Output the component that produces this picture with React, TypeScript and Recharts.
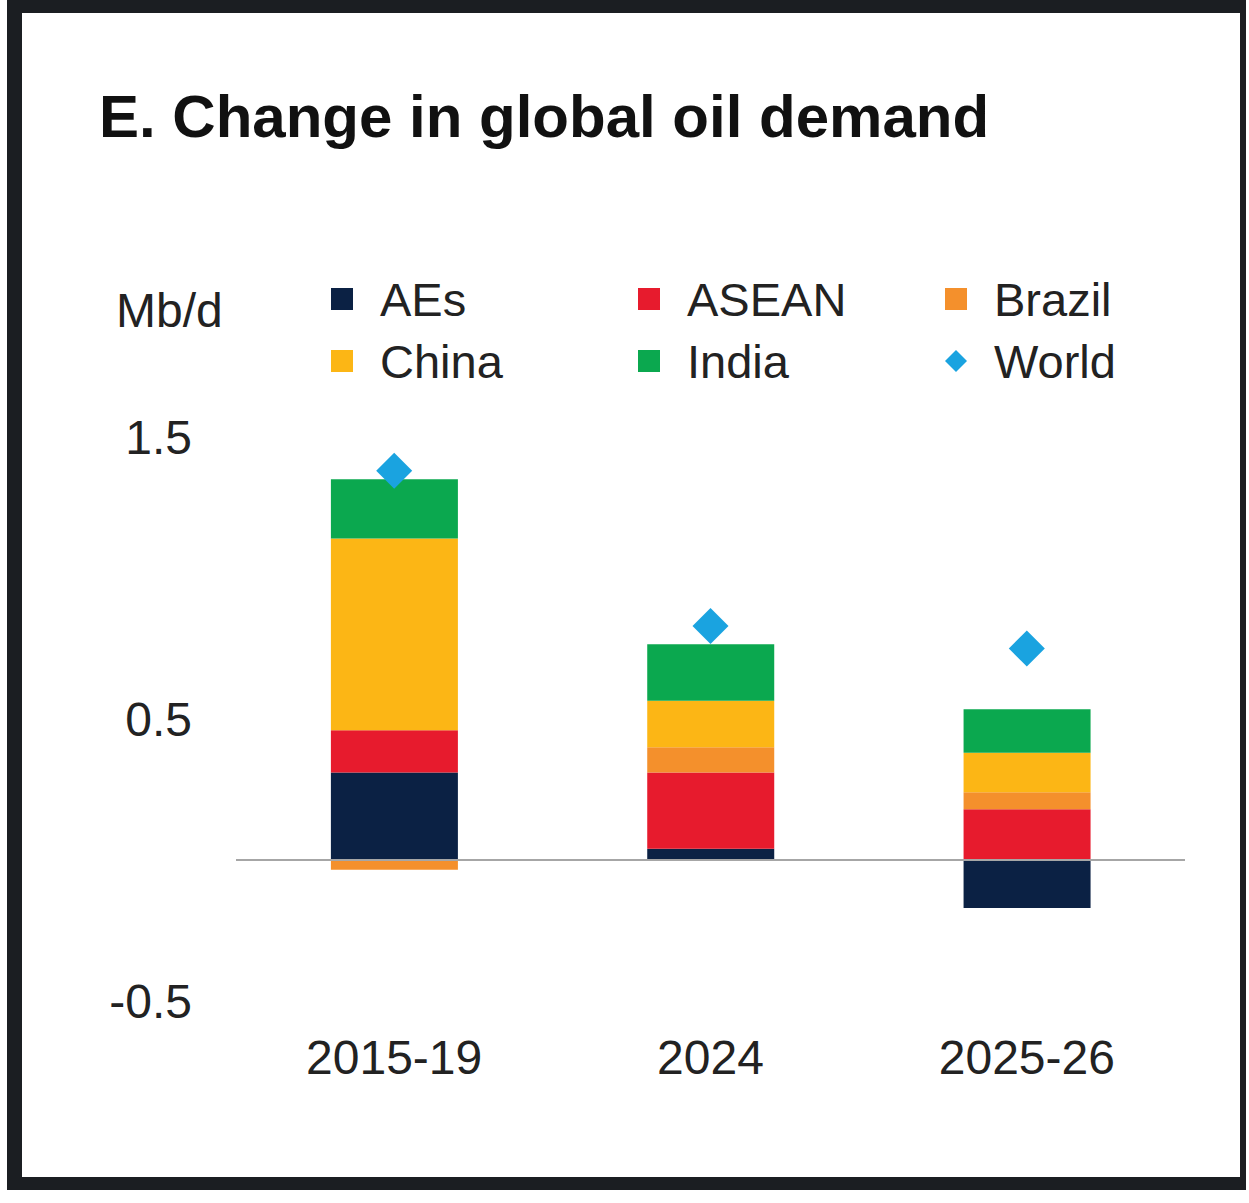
import React from "react";
import { ComposedChart, Bar, Line, XAxis, YAxis, ReferenceLine, Legend } from "recharts";

const categories = ["2015-19", "2024", "2025-26"];
const aes = [0.31, 0.04, -0.17];
const asean = [0.15, 0.27, 0.18];
const brazil = [-0.035, 0.09, 0.06];
const china = [0.68, 0.165, 0.14];
const india = [0.21, 0.2, 0.155];
const world = [1.38, 0.83, 0.75];
const yTicks = [-0.5, 0.5, 1.5];

const FONT = '"Liberation Sans", Arial, Helvetica, sans-serif';

const series = [
  { key: "AEs", values: aes, color: "#0b2144" },
  { key: "ASEAN", values: asean, color: "#e71b2d" },
  { key: "Brazil", values: brazil, color: "#f4902c" },
  { key: "China", values: china, color: "#fcb615" },
  { key: "India", values: india, color: "#0ba84f" },
];
const worldColor = "#1aa3e0";

const data = categories.map((c, i) => {
  const row: Record<string, string | number> = { name: c, World: world[i] };
  series.forEach((s) => (row[s.key] = s.values[i]));
  return row;
});

// legend order as in the original, 3 columns x 2 rows
const legendItems = [
  ...series.map((s) => ({ name: s.key, color: s.color, diamond: false })),
  { name: "World", color: worldColor, diamond: true },
];

function Diamond(props: any) {
  const { cx, cy } = props;
  if (cx == null || cy == null) return null;
  const r = 18;
  return (
    <path
      d={`M${cx},${cy - r}L${cx + r},${cy}L${cx},${cy + r}L${cx - r},${cy}Z`}
      fill={worldColor}
    />
  );
}

function LegendBox() {
  return (
    <div style={{ display: "grid", gridTemplateColumns: "307px 307px 307px", rowGap: 0, fontFamily: FONT }}>
      {legendItems.map((it) => (
        <div key={it.name} style={{ display: "flex", alignItems: "center", height: 62 }}>
          <svg width={22} height={22} style={{ marginRight: 27, flex: "none" }}>
            {it.diamond ? (
              <path d="M11,0L22,11L11,22L0,11Z" fill={it.color} />
            ) : (
              <rect width={22} height={22} fill={it.color} />
            )}
          </svg>
          <span style={{ fontSize: 47, color: "#222", lineHeight: 1 }}>{it.name}</span>
        </div>
      ))}
    </div>
  );
}

export default function App() {
  return (
    <div style={{ position: "absolute", left: 0, top: 0, width: 1249, height: 1203, background: "#fff", overflow: "hidden" }}>
      <div
        style={{
          position: "absolute",
          left: 7,
          top: 0,
          width: 1239,
          height: 1190,
          boxSizing: "border-box",
          borderStyle: "solid",
          borderColor: "#1b1e22",
          borderWidth: "13px 6px 13px 15px",
        }}
      />
      <div
        style={{
          position: "absolute",
          left: 99,
          top: 87,
          fontFamily: FONT,
          fontWeight: 700,
          fontSize: 60,
          lineHeight: 1,
          color: "#111",
          whiteSpace: "nowrap",
        }}
      >
        E. Change in global oil demand
      </div>
      <div
        style={{
          position: "absolute",
          left: 116,
          top: 287,
          fontFamily: FONT,
          fontSize: 48,
          lineHeight: 1,
          color: "#222",
        }}
      >
        Mb/d
      </div>
      <div style={{ position: "absolute", left: 0, top: 0 }}>
        <ComposedChart
          width={1249}
          height={1203}
          data={data}
          stackOffset="sign"
          barCategoryGap="30%"
          margin={{ top: 437, right: 64, bottom: 142, left: 136 }}
        >
          <XAxis
            dataKey="name"
            height={60}
            axisLine={false}
            tickLine={false}
            tickSize={0}
            tickMargin={39}
            tick={{ fontSize: 48, fill: "#222", fontFamily: FONT }}
            interval={0}
          />
          <YAxis
            width={100}
            domain={[-0.5, 1.5]}
            ticks={yTicks}
            axisLine={false}
            tickLine={false}
            tickSize={0}
            tickMargin={44}
            tick={{ fontSize: 48, fill: "#222", fontFamily: FONT }}
          />
          <Legend
            layout="vertical"
            verticalAlign="middle"
            align="center"
            wrapperStyle={{ left: 331, top: 268, width: 921 }}
            content={() => <LegendBox />}
          />
          {series.map((s) => (
            <Bar key={s.key} dataKey={s.key} stackId="a" fill={s.color} isAnimationActive={false} />
          ))}
          <ReferenceLine y={0} stroke="#a6a6a6" strokeWidth={2} />
          <Line
            dataKey="World"
            stroke="none"
            dot={<Diamond />}
            activeDot={false}
            legendType="diamond"
            isAnimationActive={false}
          />
        </ComposedChart>
      </div>
    </div>
  );
}
